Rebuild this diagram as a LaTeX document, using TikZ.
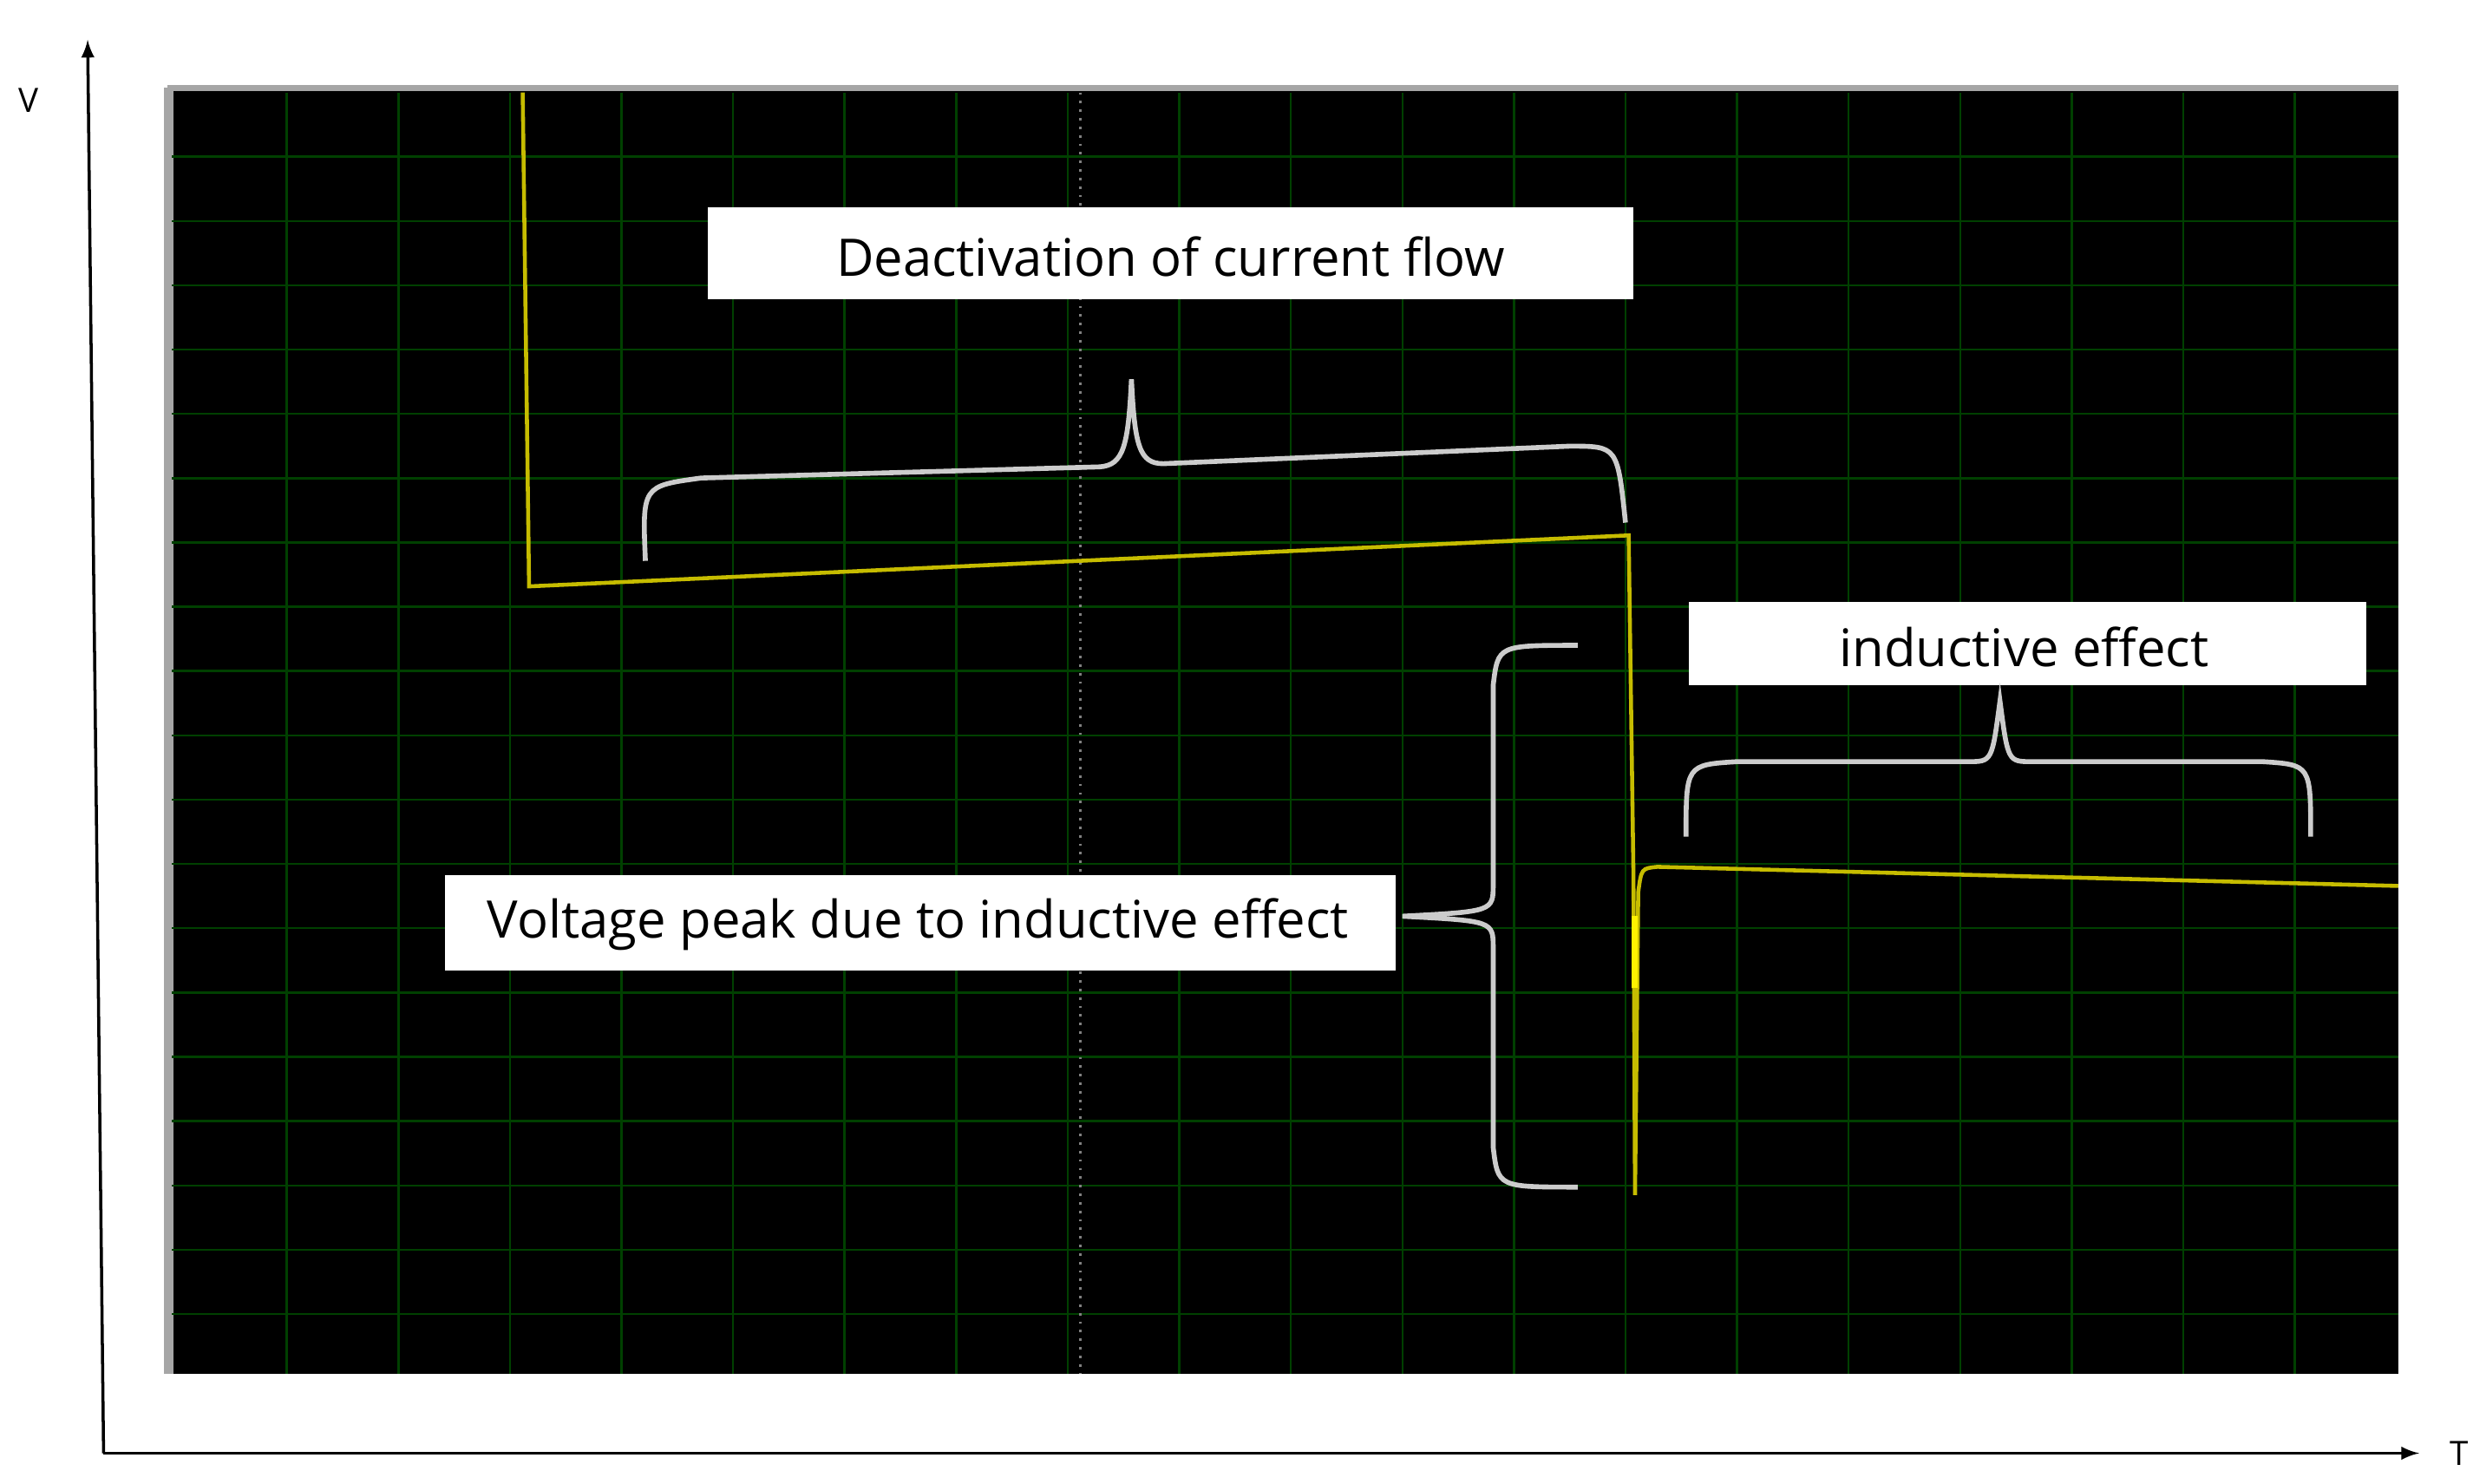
\documentclass[tikz,border=0pt]{standalone}
\usepackage{fontspec}
\setmainfont{Open Sans}
\begin{document}
\begin{tikzpicture}[x=0.01837cm,y=-0.01837cm,
  lbl/.style={inner sep=0pt,font=\fontsize{17}{20}\selectfont},
  brace/.style={draw=gray!40,line width=1.6pt},
  trace/.style={draw=yellow!50!olive,line width=1.3pt}]
\useasboundingbox (0,0) rectangle (1560,931);
\fill[white] (0,0) rectangle (1560,931);
% screen
\fill[black] (105,55) rectangle (1505,862);
\draw[gray!70,line width=2pt] (105,55) -- (1505,55);
\draw[gray!70,line width=3pt] (106,55) -- (106,862);
\foreach \i in {1,...,19} \draw[green!25!black,line width=0.7pt] (110+70*\i,58) -- (110+70*\i,862);
\foreach \j in {1,...,19} \draw[green!25!black,line width=0.7pt] (108,58+40.35*\j) -- (1505,58+40.35*\j);
\draw[gray,dotted,line width=0.8pt] (678,58) -- (678,862);
% trace
\coordinate (t0) at (328,58);
\coordinate (t1) at (332,368);
\coordinate (t2) at (1022,336);
\coordinate (t3) at (1026,750);
\draw[trace] (t0) -- (t1) -- (t2) -- (1025,548) -- (t3) -- (1028,560) .. controls (1030,545) .. (1040,544) -- (1505,556);
\draw[yellow,line width=2pt] (1026,575) -- (1026,620);
% axes
\coordinate (o) at (65,912);
\coordinate (vy) at (55,25);
\coordinate (tx) at (1518,912);
\draw[-latex,line width=1pt] (o) -- (vy);
\draw[-latex,line width=1pt] (o) -- (tx);
\node[font=\fontsize{11}{13}\selectfont] (V) at (18,63) {V};
\node[font=\fontsize{11}{13}\selectfont] (T) at (1543,912) {T};
% labels
\fill[white] (444,130) rectangle (1025,188);
\node[lbl] (d) at (734.5,161) {Deactivation of current flow};
\fill[white] (1060,378) rectangle (1485,430);
\node[lbl] (ie) at (1270,406) {inductive effect};
\fill[white] (279,549) rectangle (876,609);
\node[lbl] (vp) at (576,580) {Voltage peak due to inductive effect};
% braces
\draw[brace] (405,352) .. controls (403,305) .. (440,300) -- (690,293) .. controls (705,292) and (708,280) .. (710,238)
  .. controls (712,280) and (715,291) .. (730,291) -- (985,280) .. controls (1015,280) .. (1020,328);
\draw[brace] (1058,525) .. controls (1058,480) .. (1090,478) -- (1235,478) .. controls (1250,478) .. (1255,440)
  .. controls (1260,478) .. (1275,478) -- (1420,478) .. controls (1450,480) .. (1450,525);
\draw[brace] (990,405) .. controls (940,405) .. (937,430) -- (937,555) .. controls (937,572) .. (880,575)
  .. controls (937,578) .. (937,595) -- (937,720) .. controls (940,745) .. (990,745);
\end{tikzpicture}
\end{document}
